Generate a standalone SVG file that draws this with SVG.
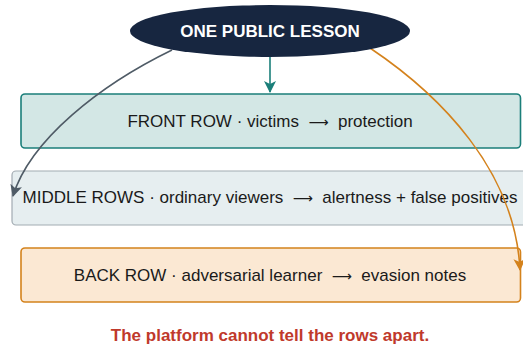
<svg xmlns="http://www.w3.org/2000/svg" width="523" height="349" viewBox="0 0 523 349">
  <style>
    .lbl { font-family: "Liberation Sans", Arial, sans-serif; font-size: 17px; fill: #1a1a1a; text-anchor: middle; }
    .arr { font-family: "DejaVu Sans", sans-serif; font-size: 14px; }
    .title { font-family: "Liberation Sans", Arial, sans-serif; font-size: 17px; font-weight: bold; fill: #ffffff; text-anchor: middle; }
    .note { font-family: "Liberation Sans", Arial, sans-serif; font-size: 17px; font-weight: bold; fill: #c0392b; text-anchor: middle; }
    .edge { fill: none; stroke-width: 1.6; }
  </style>
  <defs>
    <marker id="arrTeal" viewBox="0 0 12 12" refX="11" refY="6" markerWidth="12" markerHeight="12" markerUnits="userSpaceOnUse" orient="auto">
      <path d="M0,0 L12,6 L0,12 L3,6 Z" fill="#1b7f7a"/>
    </marker>
    <marker id="arrGray" viewBox="0 0 12 12" refX="11" refY="6" markerWidth="12" markerHeight="12" markerUnits="userSpaceOnUse" orient="auto">
      <path d="M0,0 L12,6 L0,12 L3,6 Z" fill="#4f5b66"/>
    </marker>
    <marker id="arrOrange" viewBox="0 0 12 12" refX="11" refY="6" markerWidth="12" markerHeight="12" markerUnits="userSpaceOnUse" orient="auto">
      <path d="M0,0 L12,6 L0,12 L3,6 Z" fill="#d4821c"/>
    </marker>
  </defs>

  <g id="front-row">
    <rect x="21" y="94" width="499.5" height="54" rx="4" fill="#d3e7e5" stroke="#1b7f7a" stroke-width="1.6"/>
    <text class="lbl" x="270" y="127" xml:space="preserve">FRONT ROW · victims  <tspan class="arr">⟶</tspan>  protection</text>
  </g>

  <g id="middle-rows">
    <rect x="12" y="171" width="530" height="54" rx="4" fill="#e6eef0" stroke="#a2abb2" stroke-width="1.2"/>
    <text class="lbl" x="270" y="203" xml:space="preserve">MIDDLE ROWS · ordinary viewers  <tspan class="arr">⟶</tspan>  alertness + false positives</text>
  </g>

  <g id="back-row">
    <rect x="21" y="248" width="499.5" height="54" rx="4" fill="#fbe8d3" stroke="#d4821c" stroke-width="1.6"/>
    <text class="lbl" x="270" y="281" xml:space="preserve">BACK ROW · adversarial learner  <tspan class="arr">⟶</tspan>  evasion notes</text>
  </g>

  <g id="connectors">
    <path class="edge" d="M270,57 L270,92" stroke="#1b7f7a" marker-end="url(#arrTeal)"/>
    <path class="edge" d="M172,50 C100,85 30,140 13,196" stroke="#4f5b66" marker-end="url(#arrGray)"/>
    <path class="edge" d="M370,48 C440,95 515,170 520,270" stroke="#d4821c" marker-end="url(#arrOrange)"/>
  </g>

  <g id="lesson">
    <ellipse cx="270" cy="31" rx="140" ry="26" fill="#172640"/>
    <text class="title" x="270" y="37">ONE PUBLIC LESSON</text>
  </g>

  <text class="note" x="270" y="341">The platform cannot tell the rows apart.</text>
</svg>
